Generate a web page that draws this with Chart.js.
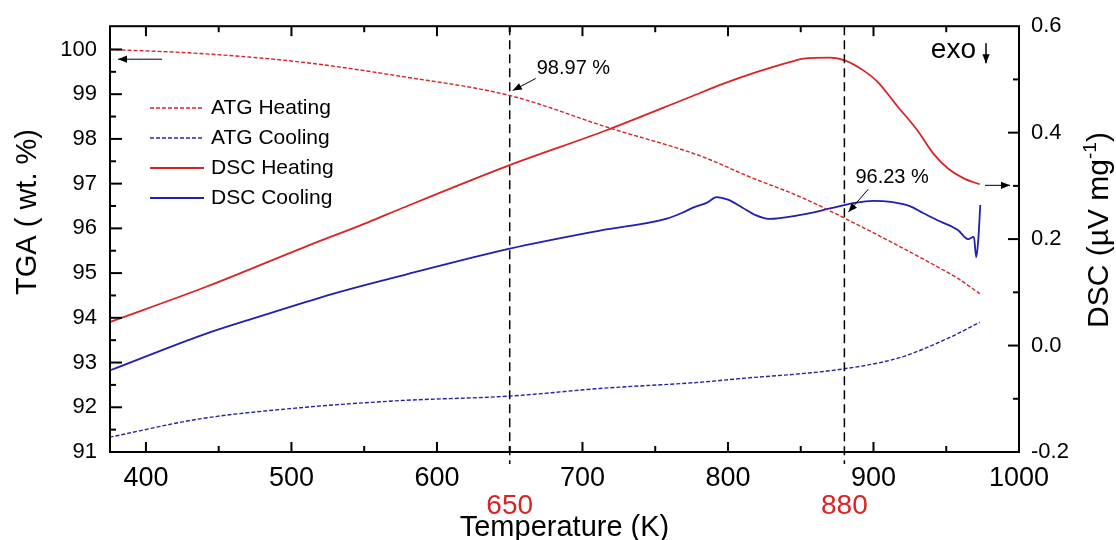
<!DOCTYPE html>
<html>
<head>
<meta charset="utf-8">
<script src="https://cdn.jsdelivr.net/npm/chart.js@4.4.1/dist/chart.umd.min.js"></script>
<style>
  body { margin: 0; background: #fff; }
</style>
</head>
<body>
<canvas id="myChart" width="1116" height="540"></canvas>
<script>
// temperatures (K) and values
const tAtgHeat = [375, 437, 506, 575, 650, 718, 781, 815, 850, 880, 944, 958, 973];
const atgHeat = [100.0, 99.91, 99.72, 99.4, 98.97, 98.25, 97.62, 97.15, 96.7, 96.23, 95.14, 94.88, 94.54];

const tAtgCool = [375, 437, 506, 575, 650, 712, 781, 815, 850, 880, 918, 953, 973];
const atgCool = [91.33, 91.74, 91.99, 92.15, 92.25, 92.42, 92.56, 92.66, 92.75, 92.86, 93.11, 93.57, 93.9];

const tDscHeat = [375, 441, 509, 553, 575, 650, 717, 774, 797, 820, 843, 852, 870, 881, 893, 903, 916, 930, 941, 951, 962, 973];
const dscHeat = [0.044, 0.11, 0.185, 0.232, 0.257, 0.339, 0.405, 0.467, 0.492, 0.514, 0.533, 0.539, 0.541, 0.535, 0.517, 0.495, 0.451, 0.405, 0.361, 0.333, 0.314, 0.303];

const tDscCool = [375, 441, 475, 509, 532, 555, 578, 650, 712, 758, 769, 776, 786, 792, 800, 810, 819, 828, 849, 871, 887, 900, 912, 925, 934, 946, 958, 965, 969, 970.6, 972, 973.4];
const dscCool = [-0.047, 0.022, 0.052, 0.081, 0.1, 0.117, 0.133, 0.182, 0.216, 0.2385, 0.25, 0.259, 0.269, 0.279, 0.274, 0.259, 0.245, 0.238, 0.245, 0.258, 0.268, 0.272, 0.27, 0.262, 0.249, 0.233, 0.217, 0.2, 0.204, 0.166, 0.198, 0.264];

const xTicks = [400, 500, 600, 700, 800, 900, 1000];
const tgaTicks = [91, 92, 93, 94, 95, 96, 97, 98, 99, 100];
const dscTicks = [-0.2, 0.0, 0.2, 0.4, 0.6];

// vertical markers and the TGA values noted at them
const markT = [650, 880];
const markLabels = ["98.97 %", "96.23 %"];
const markTga = [98.97, 96.23];

const RED = "#d82424";
const BLUE = "#1f1fb0";
const FONT = "'Liberation Sans', Arial, sans-serif";

Chart.defaults.font.family = FONT;
Chart.defaults.color = "#000";

function pts(t, v) {
  return t.map((x, i) => ({ x: x, y: v[i] }));
}

function arrow(ctx, x1, y1, x2, y2, head) {
  ctx.beginPath();
  ctx.moveTo(x1, y1);
  ctx.lineTo(x2, y2);
  ctx.stroke();
  const a = Math.atan2(y2 - y1, x2 - x1);
  const w = head * 0.4;
  ctx.beginPath();
  ctx.moveTo(x2, y2);
  ctx.lineTo(x2 - head * Math.cos(a) + w * Math.sin(a), y2 - head * Math.sin(a) - w * Math.cos(a));
  ctx.lineTo(x2 - head * Math.cos(a) - w * Math.sin(a), y2 - head * Math.sin(a) + w * Math.cos(a));
  ctx.closePath();
  ctx.fill();
}

// frame, inward ticks, markers, legend, titles
const extras = {
  id: "extras",
  afterDatasetsDraw(chart) {
    const { ctx, chartArea: a, scales } = chart;
    const sx = scales.x, sy = scales.y, sy2 = scales.y2;
    ctx.save();
    ctx.strokeStyle = "#000";
    ctx.fillStyle = "#000";

    // dashed markers
    ctx.lineWidth = 1.5;
    ctx.setLineDash([9, 5]);
    markT.forEach((t) => {
      const px = sx.getPixelForValue(t);
      ctx.beginPath();
      ctx.moveTo(px, a.top);
      ctx.lineTo(px, a.bottom + 12);
      ctx.stroke();
    });
    ctx.setLineDash([]);

    // frame
    ctx.lineWidth = 2;
    ctx.strokeRect(a.left, a.top, a.right - a.left, a.bottom - a.top);

    const line = (x1, y1, x2, y2) => {
      ctx.beginPath();
      ctx.moveTo(x1, y1);
      ctx.lineTo(x2, y2);
      ctx.stroke();
    };
    for (let v = 400; v < 1000; v += 50) {
      const px = sx.getPixelForValue(v);
      const len = v % 100 === 0 ? 10 : 6;
      line(px, a.bottom, px, a.bottom - len);
      line(px, a.top, px, a.top + len);
    }
    for (let v = 91.5; v <= 100; v += 0.5) {
      const py = sy.getPixelForValue(v);
      line(a.left, py, a.left + (v % 1 === 0 ? 12 : 6), py);
    }
    for (let k = -1; k <= 5; k++) {
      const v = k / 10;
      const py = sy2.getPixelForValue(v);
      line(a.right, py, a.right - (k % 2 === 0 ? 11 : 6), py);
    }

    // annotations
    ctx.lineWidth = 1;
    ctx.font = "20px " + FONT;
    ctx.textBaseline = "middle";
    ctx.textAlign = "left";
    const offs = [
      { tip: [3, -5], tail: [26, -17], text: [27, -27] },
      { tip: [4, -6], tail: [24, -29], text: [11, -41] },
    ];
    markT.forEach((t, i) => {
      const px = sx.getPixelForValue(t);
      const py = sy.getPixelForValue(markTga[i]);
      const o = offs[i];
      arrow(ctx, px + o.tail[0], py + o.tail[1], px + o.tip[0], py + o.tip[1], 9);
      ctx.fillText(markLabels[i], px + o.text[0], py + o.text[1]);
    });

    // axis pointers and exo
    arrow(ctx, a.left + 52, a.top + 33, a.left + 8, a.top + 33, 9);
    arrow(ctx, a.right - 34, sy2.getPixelForValue(0.301), a.right - 9, sy2.getPixelForValue(0.301), 9);
    ctx.lineWidth = 1.5;
    arrow(ctx, a.right - 33, a.top + 17, a.right - 33, a.top + 37, 9);
    ctx.lineWidth = 1;
    ctx.font = "28px " + FONT;
    ctx.textAlign = "right";
    ctx.fillText("exo", a.right - 43, a.top + 24);

    // red marker labels under the axis
    ctx.fillStyle = RED;
    ctx.textAlign = "center";
    ctx.textBaseline = "alphabetic";
    markT.forEach((t) => {
      ctx.fillText(String(t), sx.getPixelForValue(t), 514);
    });

    // axis titles
    ctx.fillStyle = "#000";
    ctx.font = "29px " + FONT;
    ctx.fillText("Temperature (K)", (a.left + a.right) / 2, 536);

    ctx.save();
    ctx.translate(36, 212);
    ctx.rotate(-Math.PI / 2);
    ctx.fillText("TGA ( wt. %)", 0, 0);
    ctx.restore();

    ctx.save();
    ctx.translate(1108, 230);
    ctx.rotate(-Math.PI / 2);
    ctx.textAlign = "left";
    const main = "DSC (\u00b5V mg";
    ctx.font = "30px " + FONT;
    const w1 = ctx.measureText(main).width;
    ctx.font = "19px " + FONT;
    const w2 = ctx.measureText("-1").width;
    ctx.font = "30px " + FONT;
    const w3 = ctx.measureText(")").width;
    let x0 = -(w1 + w2 + w3) / 2;
    ctx.fillText(main, x0, 0);
    ctx.font = "19px " + FONT;
    ctx.fillText("-1", x0 + w1, -12);
    ctx.font = "30px " + FONT;
    ctx.fillText(")", x0 + w1 + w2, 0);
    ctx.restore();

    // legend
    ctx.font = "21px " + FONT;
    ctx.textAlign = "left";
    ctx.textBaseline = "middle";
    chart.data.datasets.forEach((ds, i) => {
      const y = 108 + i * 30;
      ctx.strokeStyle = ds.borderColor;
      ctx.lineWidth = ds.borderWidth;
      ctx.setLineDash(ds.borderDash || []);
      line(150, y, 204, y);
      ctx.setLineDash([]);
      ctx.fillStyle = "#000";
      ctx.fillText(ds.label, 211, y);
    });
    ctx.restore();
  },
};

const ctx = document.getElementById("myChart");

new Chart(ctx, {
  type: "line",
  data: {
    datasets: [
      {
        label: "ATG Heating",
        data: pts(tAtgHeat, atgHeat),
        yAxisID: "y",
        borderColor: RED,
        borderWidth: 1.4,
        borderDash: [4, 2],
      },
      {
        label: "ATG Cooling",
        data: pts(tAtgCool, atgCool),
        yAxisID: "y",
        borderColor: "#26269a",
        borderWidth: 1.4,
        borderDash: [4, 2],
      },
      {
        label: "DSC Heating",
        data: pts(tDscHeat, dscHeat),
        yAxisID: "y2",
        borderColor: RED,
        borderWidth: 1.8,
      },
      {
        label: "DSC Cooling",
        data: pts(tDscCool, dscCool),
        yAxisID: "y2",
        borderColor: BLUE,
        borderWidth: 1.8,
      },
    ],
  },
  options: {
    responsive: false,
    animation: false,
    cubicInterpolationMode: "monotone",
    elements: { point: { radius: 0 } },
    layout: { padding: { top: 26 } },
    plugins: { legend: { display: false }, tooltip: { enabled: false } },
    scales: {
      x: {
        type: "linear",
        position: "bottom",
        min: 375.3,
        max: 1000,
        afterBuildTicks: (s) => { s.ticks = xTicks.map((v) => ({ value: v })); },
        afterFit: (s) => { s.height = 88; },
        grid: { display: false, drawTicks: false },
        border: { display: false },
        ticks: { font: { size: 27 }, padding: 10, maxRotation: 0, autoSkip: false, color: "#000", callback: (v) => String(v) },
      },
      y: {
        position: "left",
        min: 91,
        max: 100.52,
        afterBuildTicks: (s) => { s.ticks = tgaTicks.map((v) => ({ value: v })); },
        afterFit: (s) => { s.width = 110; },
        grid: { display: false, drawTicks: false },
        border: { display: false },
        ticks: { font: { size: 22 }, padding: 13, color: "#000" },
      },
      y2: {
        position: "right",
        min: -0.2,
        max: 0.6,
        afterBuildTicks: (s) => { s.ticks = dscTicks.map((v) => ({ value: v })); },
        afterFit: (s) => { s.width = 97; },
        grid: { display: false, drawTicks: false },
        border: { display: false },
        ticks: { font: { size: 22 }, padding: 12, color: "#000", callback: (v) => v.toFixed(1) },
      },
    },
  },
  plugins: [extras],
});
</script>
</body>
</html>
